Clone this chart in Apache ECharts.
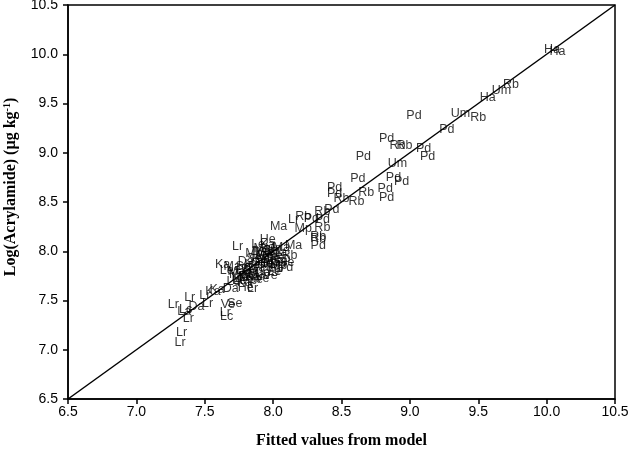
<!DOCTYPE html>
<html><head><meta charset="utf-8">
<script src="https://cdn.jsdelivr.net/npm/echarts@6/dist/echarts.min.js"></script>
<style>html,body{margin:0;padding:0;background:#fff}#c{width:631px;height:450px}</style>
</head><body><div id="c"></div>
<script>
// Sample codes, fitted values (x) and observed log(acrylamide) (y)
const codes = ["Ha","Ha","Rb","Um","Ha","Um","Rb","Pd","Pd","Pd","Rb","Rb","Pd","Pd","Pd","Um","Pd","Pd","Pd","Pd","Pd","Rb","Pd","Rb","Pd","Rb","Pd","Rb","Pd","Rb","Rb","Rb","Pd","Lr","Rb","Pd","Mp","Ma","He","Ma","Lr","Ka","Le","Ka","Ka","Da","He","Lr","Lr","Lr","Lr","Lc","La","Da","Lr","Lr","Ve","Se","Lr","Lc","Lr","Lr",
  "Ma","Se","Ma","He","Mp","Sp","Se","Ma","Se","Mp","He","Ma","Se","Da","Le","Mp","Ma","Se","Ka","Le","Mp","Ve","Pd","Rb","Ka","Le","Ma","Mp","Se","Da","He","Ma","Se",
  "Ma","Se","Mp","He","Da","Ka","Le","Se","Ma","Sp","Ve","Mp","He","Se","Ma","Le","Da","Mp","Se","Ka"];
const fitted = [10.04,10.08,9.74,9.67,9.57,9.37,9.50,9.27,9.03,8.83,8.91,8.96,9.10,9.13,8.66,8.91,8.62,8.88,8.94,8.45,8.82,8.68,8.45,8.50,8.83,8.61,8.43,8.36,8.36,8.36,8.33,8.33,8.33,8.15,8.22,8.28,8.22,8.04,7.96,8.15,7.74,7.63,7.66,7.59,7.56,7.69,7.80,7.85,7.27,7.39,7.50,7.36,7.35,7.44,7.52,7.38,7.67,7.72,7.65,7.66,7.33,7.32,
  7.92,7.98,8.04,8.01,7.94,8.07,8.10,7.99,7.90,8.04,7.96,7.88,7.82,7.92,8.01,7.83,7.76,7.87,7.79,7.71,7.74,7.98,8.09,8.12,7.96,7.89,8.06,7.86,7.95,7.80,7.85,7.70,7.78,
  7.93,8.00,7.97,7.90,7.84,7.80,7.75,8.05,7.88,8.02,7.92,7.82,7.94,7.86,7.73,7.78,7.90,8.00,7.97,7.85];
const observed = [10.05,10.03,9.69,9.63,9.56,9.40,9.36,9.24,9.38,9.14,9.07,9.07,9.04,8.96,8.96,8.89,8.74,8.75,8.71,8.65,8.64,8.60,8.59,8.53,8.55,8.50,8.42,8.40,8.32,8.24,8.15,8.13,8.06,8.32,8.35,8.33,8.23,8.25,8.12,8.06,8.05,7.86,7.80,7.61,7.59,7.62,7.63,7.62,7.46,7.53,7.55,7.41,7.39,7.44,7.47,7.32,7.46,7.47,7.38,7.34,7.17,7.07,
  8.03,8.01,7.99,7.96,7.95,7.93,7.89,7.89,7.89,7.85,7.83,7.83,7.81,7.78,7.79,7.76,7.73,7.71,7.68,7.69,7.76,7.75,7.83,7.96,8.07,8.07,8.04,7.98,7.99,7.90,7.87,7.84,7.84,
  7.98,7.93,7.86,7.92,7.80,7.74,7.70,7.90,7.76,7.82,7.72,7.70,7.88,7.93,7.79,7.80,8.00,8.03,7.92,7.74];
const lineX = [6.5, 10.5];
const lineY = [6.5, 10.5];
const axisMin = 6.5, axisMax = 10.5, axisStep = 0.5;

const pts = codes.map((c,i)=>({name:c, value:[fitted[i], observed[i]]}));
const chart = echarts.init(document.getElementById('c'), null, {renderer:'canvas'});
const tickFmt = v => v.toFixed(1);
chart.setOption({
  animation:false,
  grid:{left:68,right:16,top:5,bottom:51,containLabel:false,outerBoundsMode:'none',show:true,borderColor:'#000',borderWidth:1.5},
  xAxis:{type:'value',min:axisMin,max:axisMax,interval:axisStep,
    name:'Fitted values from model',nameLocation:'middle',nameGap:34,
    nameTextStyle:{fontFamily:'Liberation Serif',fontWeight:'bold',fontSize:16,color:'#000'},
    axisLine:{lineStyle:{color:'#000',width:1.5}},axisTick:{length:5,lineStyle:{color:'#000',width:1.5}},
    axisLabel:{formatter:tickFmt,fontFamily:'Liberation Sans',fontSize:14,color:'#000',margin:6},
    splitLine:{show:false}},
  yAxis:{type:'value',min:axisMin,max:axisMax,interval:axisStep,
    name:'Log(Acrylamide) (µg kg{sup|-1})',nameLocation:'middle',nameGap:48,nameRotate:90,
    nameTextStyle:{fontFamily:'Liberation Serif',fontWeight:'bold',fontSize:16,color:'#000',padding:[0,0,0,30],
      rich:{sup:{fontFamily:'Liberation Serif',fontWeight:'bold',fontSize:10,verticalAlign:'top',padding:[0,0,8,0],color:'#000'}}},
    axisLine:{lineStyle:{color:'#000',width:1.5}},axisTick:{length:5,lineStyle:{color:'#000',width:1.5}},
    axisLabel:{formatter:tickFmt,fontFamily:'Liberation Sans',fontSize:14,color:'#000',margin:10},
    splitLine:{show:false}},
  series:[
    {type:'line',data:lineX.map((x,i)=>[x,lineY[i]]),symbol:'none',lineStyle:{color:'#000',width:1.5},z:1},
    {type:'scatter',data:pts,symbolSize:1,itemStyle:{color:'rgba(0,0,0,0)'},z:2,
     label:{show:true,position:'inside',formatter:p=>p.name,fontFamily:'Liberation Sans',fontSize:12.5,color:'#000'}}
  ]
});
</script></body></html>
